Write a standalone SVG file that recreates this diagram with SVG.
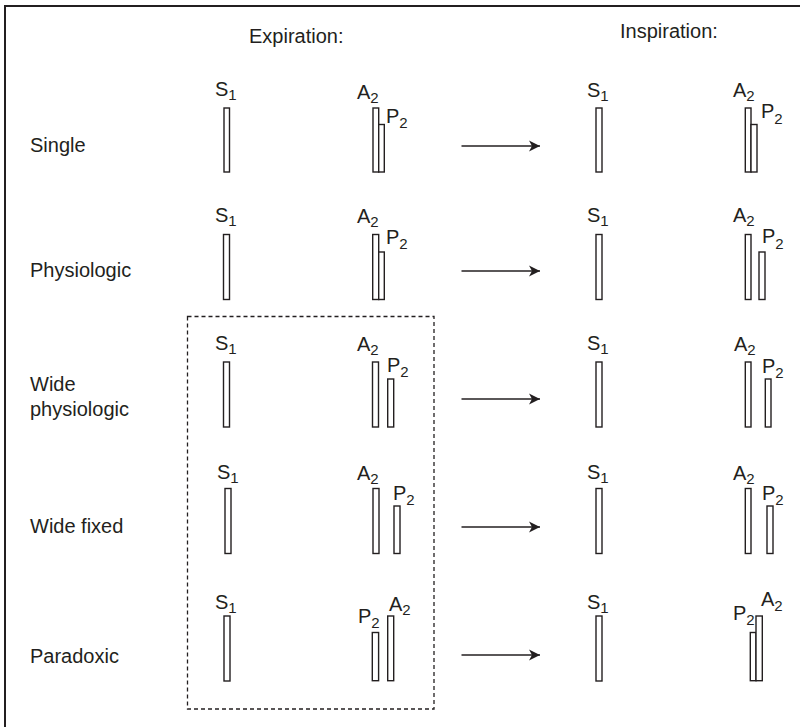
<svg xmlns="http://www.w3.org/2000/svg" width="800" height="727" viewBox="0 0 800 727">
  <style>
    text { font-family: "Liberation Sans", Arial, sans-serif; font-size: 20px; fill: #231f20; }
    .sub { font-size: 15px; }
    .bar { fill: #ffffff; stroke: #231f20; stroke-width: 1.4; }
    .arrow { stroke: #231f20; stroke-width: 1.5; fill: none; marker-end: url(#head); }
    .frame { fill: none; stroke: #231f20; stroke-width: 2; }
    .group { fill: none; stroke: #231f20; stroke-width: 1.3; stroke-dasharray: 4 3; }
  </style>
  <defs>
    <marker id="head" markerWidth="12" markerHeight="12" viewBox="-11 -6 12 12" refX="0" refY="0" orient="auto" markerUnits="userSpaceOnUse">
      <path d="M0,0 L-11,-5.5 L-8,0 L-11,5.5 Z" fill="#231f20"/>
    </marker>
  </defs>

  <rect width="800" height="727" fill="#ffffff"/>
  <rect class="frame" x="5" y="6" width="800" height="730"/>

  <!-- column headings -->
  <text x="249" y="43">Expiration:</text>
  <text x="620" y="38">Inspiration:</text>

  <!-- abnormal splitting patterns bracket -->
  <rect class="group" x="187.5" y="316.5" width="246.5" height="392.5"/>

  <!-- Single -->
  <g id="single">
    <text x="30" y="152">Single</text>
    <text x="215" y="96">S<tspan class="sub" dy="4">1</tspan></text>
    <rect class="bar" x="224" y="108" width="5.5" height="64"/>
    <text x="357" y="99">A<tspan class="sub" dy="4">2</tspan></text>
    <text x="386" y="123">P<tspan class="sub" dy="5">2</tspan></text>
    <rect class="bar" x="373" y="108" width="5.7" height="64"/>
    <rect class="bar" x="378.7" y="124.5" width="5.6" height="47.5"/>
    <text x="587" y="97">S<tspan class="sub" dy="4">1</tspan></text>
    <rect class="bar" x="596" y="108" width="6" height="64"/>
    <text x="733" y="97">A<tspan class="sub" dy="4">2</tspan></text>
    <text x="761" y="118">P<tspan class="sub" dy="6">2</tspan></text>
    <rect class="bar" x="745.3" y="108" width="5.7" height="64"/>
    <rect class="bar" x="751" y="124.5" width="6" height="47.5"/>
  </g>

  <!-- Physiologic -->
  <g id="physiologic">
    <text x="30" y="277">Physiologic</text>
    <text x="215" y="222">S<tspan class="sub" dy="4">1</tspan></text>
    <rect class="bar" x="223.5" y="234.5" width="6" height="65"/>
    <text x="357" y="223">A<tspan class="sub" dy="4">2</tspan></text>
    <text x="386" y="244">P<tspan class="sub" dy="5">2</tspan></text>
    <rect class="bar" x="372.7" y="234.5" width="6" height="65"/>
    <rect class="bar" x="378.7" y="252" width="5.6" height="47.5"/>
    <text x="587" y="222">S<tspan class="sub" dy="4">1</tspan></text>
    <rect class="bar" x="596" y="234.5" width="6" height="65"/>
    <text x="733" y="222">A<tspan class="sub" dy="4">2</tspan></text>
    <text x="762" y="243">P<tspan class="sub" dy="6">2</tspan></text>
    <rect class="bar" x="745.3" y="234.5" width="5.7" height="65"/>
    <rect class="bar" x="759" y="252" width="6" height="47.5"/>
  </g>

  <!-- Wide physiologic -->
  <g id="wide-physiologic">
    <text x="30" y="391">Wide</text>
    <text x="30" y="416">physiologic</text>
    <text x="215" y="350">S<tspan class="sub" dy="4">1</tspan></text>
    <rect class="bar" x="223.5" y="362" width="6" height="65"/>
    <text x="357" y="351">A<tspan class="sub" dy="4">2</tspan></text>
    <text x="387" y="372">P<tspan class="sub" dy="5">2</tspan></text>
    <rect class="bar" x="372.5" y="362" width="6" height="65"/>
    <rect class="bar" x="387.7" y="379" width="6" height="48"/>
    <text x="587" y="350">S<tspan class="sub" dy="4">1</tspan></text>
    <rect class="bar" x="596" y="362" width="6" height="65"/>
    <text x="734" y="351">A<tspan class="sub" dy="4">2</tspan></text>
    <text x="762" y="373">P<tspan class="sub" dy="5">2</tspan></text>
    <rect class="bar" x="745.3" y="362" width="5.7" height="65"/>
    <rect class="bar" x="765.3" y="379" width="5.7" height="48"/>
  </g>

  <!-- Wide fixed -->
  <g id="wide-fixed">
    <text x="30" y="533">Wide fixed</text>
    <text x="217" y="479">S<tspan class="sub" dy="4">1</tspan></text>
    <rect class="bar" x="225" y="488.5" width="6" height="65"/>
    <text x="357" y="480">A<tspan class="sub" dy="4">2</tspan></text>
    <text x="393" y="500">P<tspan class="sub" dy="5">2</tspan></text>
    <rect class="bar" x="373" y="488.5" width="6" height="65"/>
    <rect class="bar" x="394" y="506" width="6" height="47.5"/>
    <text x="587" y="479">S<tspan class="sub" dy="4">1</tspan></text>
    <rect class="bar" x="596" y="488.5" width="6" height="65"/>
    <text x="733" y="480">A<tspan class="sub" dy="4">2</tspan></text>
    <text x="762" y="500">P<tspan class="sub" dy="5">2</tspan></text>
    <rect class="bar" x="745.3" y="488.5" width="5.7" height="65"/>
    <rect class="bar" x="767" y="506" width="6" height="47.5"/>
  </g>

  <!-- Paradoxic -->
  <g id="paradoxic">
    <text x="30" y="663">Paradoxic</text>
    <text x="215" y="609">S<tspan class="sub" dy="4">1</tspan></text>
    <rect class="bar" x="224" y="616" width="6" height="65"/>
    <text x="358" y="623">P<tspan class="sub" dy="5">2</tspan></text>
    <text x="389" y="611">A<tspan class="sub" dy="4">2</tspan></text>
    <rect class="bar" x="372.3" y="632.5" width="6.3" height="48.2"/>
    <rect class="bar" x="387.7" y="616" width="6" height="64.7"/>
    <text x="587" y="609">S<tspan class="sub" dy="4">1</tspan></text>
    <rect class="bar" x="596" y="616" width="6" height="65"/>
    <text x="733" y="620">P<tspan class="sub" dy="5">2</tspan></text>
    <text x="761" y="606">A<tspan class="sub" dy="5">2</tspan></text>
    <rect class="bar" x="750.3" y="632.5" width="5.7" height="48.2"/>
    <rect class="bar" x="756" y="616" width="6.3" height="64.7"/>
  </g>

  <!-- expiration to inspiration arrows -->
  <g id="connectors">
    <line class="arrow" x1="461.5" y1="146" x2="540" y2="146"/>
    <line class="arrow" x1="461.5" y1="271" x2="540" y2="271"/>
    <line class="arrow" x1="461.5" y1="399" x2="540" y2="399"/>
    <line class="arrow" x1="461.5" y1="527" x2="540" y2="527"/>
    <line class="arrow" x1="461.5" y1="655" x2="540" y2="655"/>
  </g>
</svg>
